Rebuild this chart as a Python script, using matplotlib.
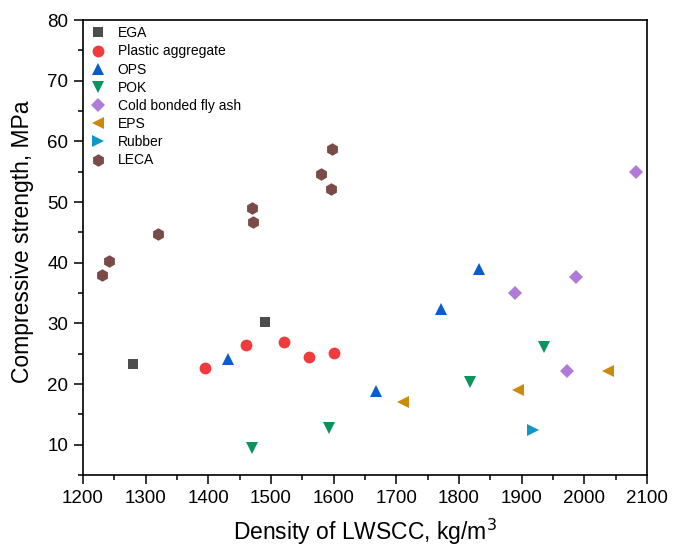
import matplotlib
matplotlib.use("Agg")
import matplotlib.pyplot as plt
from matplotlib.ticker import MultipleLocator

plt.rcParams['font.family'] = ['Liberation Sans', 'DejaVu Sans']

ega_x = [1280, 1490]
ega_y = [23.3, 30.3]
plastic_x = [1395, 1460, 1520, 1560, 1600]
plastic_y = [22.7, 26.4, 27.0, 24.4, 25.1]
ops_x = [1431, 1667, 1771, 1832]
ops_y = [24.2, 18.9, 32.4, 38.9]
pok_x = [1470, 1592, 1818, 1936]
pok_y = [9.4, 12.8, 20.3, 26.1]
cbfa_x = [1890, 1973, 1987, 2083]
cbfa_y = [35.0, 22.1, 37.6, 55.0]
eps_x = [1710, 1894, 2038]
eps_y = [17.1, 19.0, 22.1]
rubber_x = [1918]
rubber_y = [12.5]
leca_x = [1230, 1242, 1320, 1470, 1471, 1580, 1595, 1598]
leca_y = [37.9, 40.3, 44.7, 49.0, 46.7, 54.6, 52.1, 58.7]

series = [
    ("EGA", ega_x, ega_y, 's', '#4d4d4d', 7.5),
    ("Plastic aggregate", plastic_x, plastic_y, 'o', '#ef3b3b', 8.5),
    ("OPS", ops_x, ops_y, '^', '#0b5bd0', 8.5),
    ("POK", pok_x, pok_y, 'v', '#0a935c', 8.5),
    ("Cold bonded fly ash", cbfa_x, cbfa_y, 'D', '#b07ad8', 7),
    ("EPS", eps_x, eps_y, '<', '#cc8a0a', 8.5),
    ("Rubber", rubber_x, rubber_y, '>', '#1197c3', 8.5),
    ("LECA", leca_x, leca_y, 'h', '#7b4b47', 9),
]

fig = plt.figure(figsize=(6.73, 5.47), dpi=100)
ax = fig.add_axes([0.1233, 0.1316, 0.838, 0.8318])

for name, xs, ys, m, c, ms in series:
    ax.plot(xs, ys, linestyle='none', marker=m, color=c, markersize=ms,
            markeredgewidth=0, label=name)

ax.set_xlim(1200, 2100)
ax.set_ylim(5, 80)
ax.xaxis.set_major_locator(MultipleLocator(100))
ax.xaxis.set_minor_locator(MultipleLocator(50))
ax.yaxis.set_major_locator(MultipleLocator(10))
ax.yaxis.set_minor_locator(MultipleLocator(5))
ax.set_yticks([10, 20, 30, 40, 50, 60, 70, 80])
ax.tick_params(axis='both', which='major', direction='out', length=6.5, width=1.1,
               labelsize=13.5, pad=4, top=False, right=False)
ax.tick_params(axis='both', which='minor', direction='out', length=3.3, width=1.1,
               top=False, right=False)
for s in ax.spines.values():
    s.set_linewidth(1.2)

ax.set_xlabel("Density of LWSCC, kg/m$^3$", fontsize=16.5, labelpad=7)
ax.set_ylabel("Compressive strength, MPa", fontsize=16.5)
ax.yaxis.set_label_coords(-0.087, 0.513)

leg = ax.legend(loc='upper left', frameon=False, fontsize=10, handletextpad=0.8,
                labelspacing=0.3, borderaxespad=0.2, borderpad=0.25,
                handlelength=1.25, bbox_to_anchor=(0.0, 1.0))

fig.savefig("out.png", dpi=100)
